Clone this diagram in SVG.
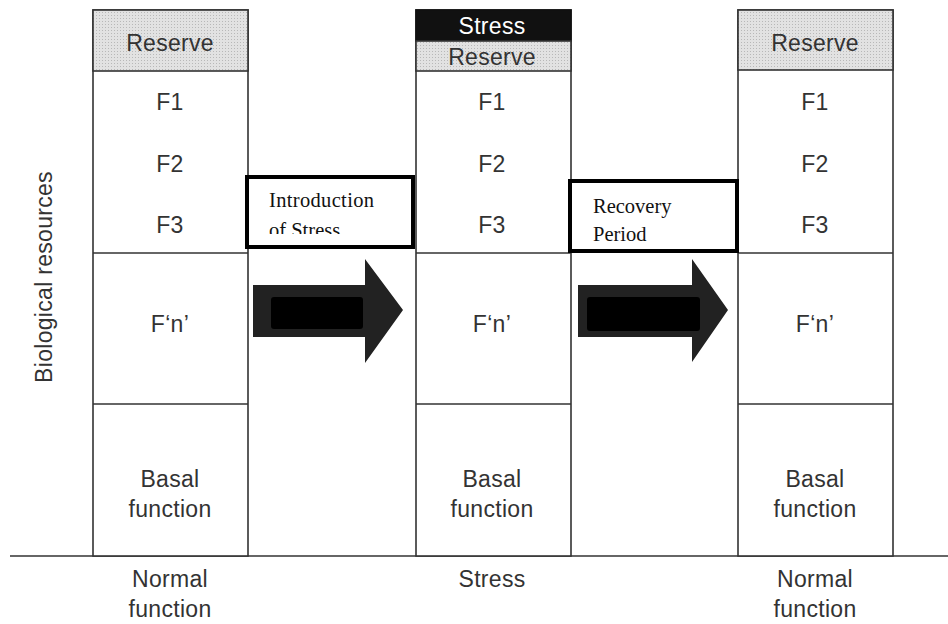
<svg xmlns="http://www.w3.org/2000/svg" width="948" height="624" viewBox="0 0 948 624">
<style>
.col{fill:#fff;stroke:#333;stroke-width:1.6}
.sep{stroke:#333;stroke-width:1.6;fill:none}
.res{fill:url(#dots);stroke:#333;stroke-width:1.6}
.t{font-family:"Liberation Sans",Arial,sans-serif;font-size:23px;letter-spacing:0.3px;fill:#333;text-anchor:middle}
.tb{fill:#fff;stroke:#000;stroke-width:4}
.st{font-family:"Liberation Serif","Times New Roman",serif;font-size:20.5px;fill:#111}
.arrow{fill:#222}
.inner{fill:#000}
</style>
<defs>
<pattern id="dots" width="3" height="3" patternUnits="userSpaceOnUse">
<rect width="3" height="3" fill="#e2e2e2"/>
<rect x="0" y="0" width="1" height="1" fill="#b8b8b8"/>
</pattern>
<clipPath id="clip1"><rect x="247" y="177" width="166" height="57"/></clipPath>
</defs>

<line class="sep" x1="10" y1="556" x2="948" y2="556"/>

<g id="col1">
<rect class="col" x="93" y="10" width="155" height="546"/>
<rect class="res" x="93" y="10" width="155" height="61"/>
<line class="sep" x1="93" y1="253" x2="248" y2="253"/>
<line class="sep" x1="93" y1="404" x2="248" y2="404"/>
<text class="t" x="170" y="51">Reserve</text>
<text class="t" x="170" y="110">F1</text>
<text class="t" x="170" y="172">F2</text>
<text class="t" x="170" y="233">F3</text>
<text class="t" x="170" y="332">F‘n’</text>
<text class="t" x="170" y="487">Basal</text>
<text class="t" x="170" y="517">function</text>
<text class="t" x="170" y="587">Normal</text>
<text class="t" x="170" y="617">function</text>
</g>

<g id="col2">
<rect class="col" x="416" y="10" width="155" height="546"/>
<rect x="416" y="10" width="155" height="31" fill="#111" stroke="#111" stroke-width="1.6"/>
<rect class="res" x="416" y="41" width="155" height="30"/>
<line class="sep" x1="416" y1="253" x2="571" y2="253"/>
<line class="sep" x1="416" y1="404" x2="571" y2="404"/>
<text class="t" x="492" y="34" style="fill:#fff">Stress</text>
<text class="t" x="492" y="65">Reserve</text>
<text class="t" x="492" y="110">F1</text>
<text class="t" x="492" y="172">F2</text>
<text class="t" x="492" y="233">F3</text>
<text class="t" x="492" y="332">F‘n’</text>
<text class="t" x="492" y="487">Basal</text>
<text class="t" x="492" y="517">function</text>
<text class="t" x="492" y="587">Stress</text>
</g>

<g id="col3">
<rect class="col" x="738" y="10" width="155" height="546"/>
<rect class="res" x="738" y="10" width="155" height="60"/>
<line class="sep" x1="738" y1="253" x2="893" y2="253"/>
<line class="sep" x1="738" y1="404" x2="893" y2="404"/>
<text class="t" x="815" y="51">Reserve</text>
<text class="t" x="815" y="110">F1</text>
<text class="t" x="815" y="172">F2</text>
<text class="t" x="815" y="233">F3</text>
<text class="t" x="815" y="332">F‘n’</text>
<text class="t" x="815" y="487">Basal</text>
<text class="t" x="815" y="517">function</text>
<text class="t" x="815" y="587">Normal</text>
<text class="t" x="815" y="617">function</text>
</g>

<g id="axis-label">
<text class="t" transform="translate(52,277) rotate(-90)" x="0" y="0">Biological resources</text>
</g>

<g id="connectors">
<g id="arrow1">
<polygon class="arrow" points="253,285 365,285 365,259 403,310 365,363 365,337 253,337"/>
<rect class="inner" x="271" y="297" width="92" height="32" rx="3"/>
</g>
<g id="arrow2">
<polygon class="arrow" points="578,285 692,285 692,259 728,310 692,362 692,337 578,337"/>
<rect class="inner" x="587" y="297" width="113" height="34" rx="3"/>
</g>
</g>

<g id="label1">
<rect class="tb" x="247" y="177" width="166" height="70"/>
<g clip-path="url(#clip1)">
<text class="st" x="269" y="207" textLength="105">Introduction</text>
<text class="st" x="269" y="237">of Stress</text>
</g>
</g>

<g id="label2">
<rect class="tb" x="570" y="181" width="167" height="70"/>
<text class="st" x="593" y="213">Recovery</text>
<text class="st" x="593" y="241">Period</text>
</g>
</svg>
